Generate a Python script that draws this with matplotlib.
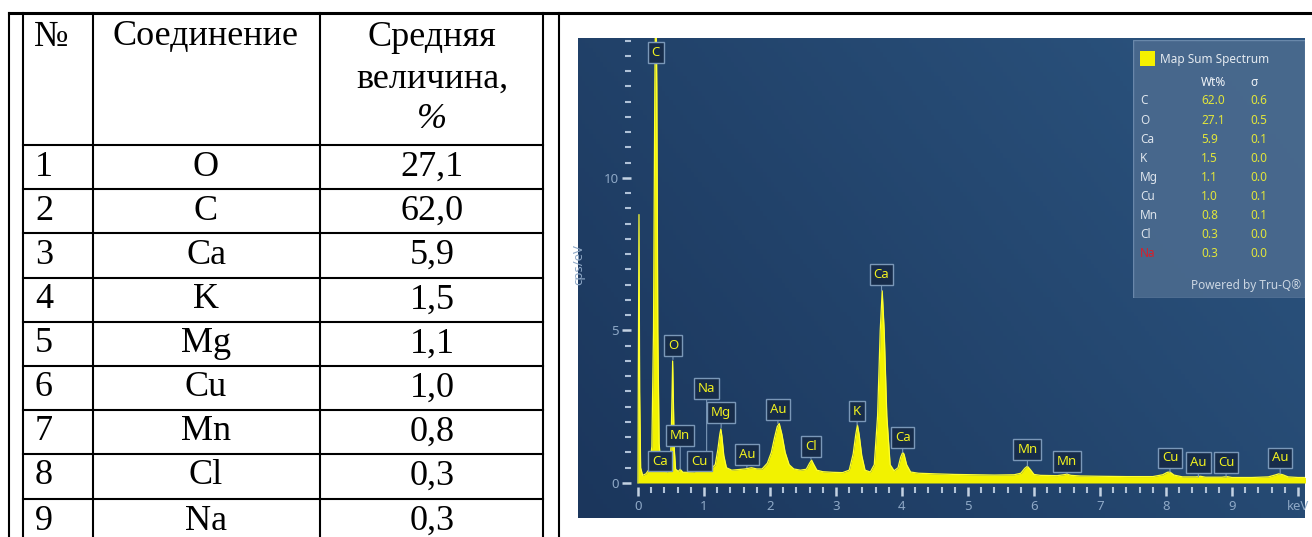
import numpy as np
import matplotlib.pyplot as plt
from matplotlib.patches import Rectangle

# --- таблица ---
row_num = ['1', '2', '3', '4', '5', '6', '7', '8', '9']
compounds = ['O', 'C', 'Ca', 'K', 'Mg', 'Cu', 'Mn', 'Cl', 'Na']
mean_vals = ['27,1', '62,0', '5,9', '1,5', '1,1', '1,0', '0,8', '0,3', '0,3']

# --- спектр (keV, cps/eV) ---
energy = [0.00, 0.005, 0.015, 0.025, 0.04, 0.07, 0.12, 0.17, 0.21, 0.235, 0.255, 0.27, 0.285, 0.30,
          0.32, 0.345, 0.37, 0.40, 0.44, 0.48, 0.50, 0.515, 0.525, 0.535, 0.55, 0.57, 0.61, 0.64,
          0.68, 0.75, 0.84, 0.93, 0.98, 1.04, 1.10, 1.17, 1.21, 1.24, 1.255, 1.27, 1.30, 1.34,
          1.42, 1.52, 1.62, 1.72, 1.80, 1.88, 1.96, 2.02, 2.07, 2.11, 2.14, 2.18, 2.23, 2.29,
          2.36, 2.46, 2.55, 2.60, 2.63, 2.66, 2.71, 2.80, 2.95, 3.10, 3.20, 3.26, 3.30, 3.325,
          3.35, 3.39, 3.44, 3.52, 3.58, 3.63, 3.67, 3.70, 3.73, 3.77, 3.82, 3.88, 3.94, 3.98,
          4.01, 4.03, 4.07, 4.13, 4.25, 4.50, 4.80, 5.10, 5.40, 5.70, 5.80, 5.86, 5.90, 5.94,
          6.00, 6.10, 6.35, 6.45, 6.50, 6.56, 6.70, 7.00, 7.40, 7.80, 7.95, 8.02, 8.06, 8.12,
          8.25, 8.45, 8.52, 8.60, 8.85, 8.92, 9.00, 9.30, 9.55, 9.65, 9.71, 9.77, 9.85, 10.0, 10.2]
counts = [0.0, 3.5, 8.8, 3.0, 0.5, 0.25, 0.3, 0.45, 1.2, 5.0, 13.0, 16.5, 13.0, 5.0,
          1.3, 0.6, 0.55, 0.38, 0.35, 0.45, 1.2, 2.8, 4.0, 2.8, 1.1, 0.45, 0.38, 0.45,
          0.35, 0.35, 0.36, 0.42, 0.4, 0.45, 0.45, 0.6, 1.1, 1.6, 1.77, 1.55, 0.9, 0.5,
          0.42, 0.44, 0.46, 0.5, 0.46, 0.46, 0.65, 1.0, 1.5, 1.85, 1.95, 1.6, 1.0, 0.6,
          0.46, 0.42, 0.45, 0.65, 0.75, 0.62, 0.42, 0.37, 0.35, 0.34, 0.42, 0.95, 1.6, 1.9,
          1.6, 0.9, 0.42, 0.36, 0.6, 2.2, 5.0, 6.3, 5.0, 2.2, 0.6, 0.4, 0.5, 0.85,
          1.0, 0.95, 0.6, 0.36, 0.32, 0.3, 0.28, 0.27, 0.26, 0.27, 0.32, 0.48, 0.55, 0.45,
          0.28, 0.25, 0.24, 0.27, 0.29, 0.25, 0.23, 0.22, 0.21, 0.21, 0.27, 0.35, 0.36, 0.26,
          0.2, 0.2, 0.22, 0.19, 0.19, 0.21, 0.18, 0.18, 0.2, 0.26, 0.3, 0.27, 0.2, 0.18, 0.18]

# метки пиков: энергия, положение рамки, куда указывает
peak_names = ['C', 'O', 'Na', 'Mg', 'Mn', 'Ca', 'Cu', 'Au', 'Au', 'Cl', 'K', 'Ca', 'Ca',
              'Mn', 'Mn', 'Cu', 'Au', 'Cu', 'Au']
peak_e = [0.27, 0.53, 1.04, 1.26, 0.64, 0.33, 0.93, 1.65, 2.12, 2.62, 3.32, 3.69, 4.01,
          5.90, 6.50, 8.06, 8.49, 8.91, 9.73]
peak_box = [14.1, 4.5, 3.1, 2.3, 1.55, 0.72, 0.72, 0.92, 2.4, 1.2, 2.36, 6.85, 1.5,
            1.1, 0.7, 0.82, 0.66, 0.66, 0.82]
peak_tip = [14.1, 4.05, 0.45, 1.8, 0.45, 0.5, 0.4, 0.5, 1.95, 0.78, 1.9, 6.3, 1.0,
            0.55, 0.3, 0.36, 0.2, 0.2, 0.3]

# легенда
leg_elems = ['C', 'O', 'Ca', 'K', 'Mg', 'Cu', 'Mn', 'Cl', 'Na']
leg_wt = ['62.0', '27.1', '5.9', '1.5', '1.1', '1.0', '0.8', '0.3', '0.3']
leg_sigma = ['0.6', '0.5', '0.1', '0.0', '0.0', '0.1', '0.1', '0.0', '0.0']

W, H = 1312, 537


def rect(x0, y0, x1, y1):
    return [x0 / W, 1 - y1 / H, (x1 - x0) / W, (y1 - y0) / H]


fig = plt.figure(figsize=(W / 100, H / 100), dpi=100)
fig.patch.set_facecolor('white')

# ---- таблица слева ----
tab = fig.add_axes([0, 0, 1, 1])
tab.set_xlim(0, W)
tab.set_ylim(H, 0)
tab.axis('off')
lw = 1.5
tab.plot([9, W], [13, 13], color='black', lw=2.2)
for x in [9, 23, 93, 320, 543, 559]:
    tab.plot([x, x], [13, H], color='black', lw=lw)
row_lines = [145, 189, 233, 278, 322, 366, 410, 454, 499]
for y in row_lines:
    tab.plot([23, 543], [y, y], color='black', lw=lw)

serif = 'Liberation Serif'
fs = 26
tab.text(34, 37, '№', fontsize=fs, family=serif, ha='left', va='center')
tab.text(206, 37, 'Соединение', fontsize=fs, family=serif, ha='center', va='center')
tab.text(432, 37, 'Средняя', fontsize=fs, family=serif, ha='center', va='center')
tab.text(432, 79, 'величина,', fontsize=fs, family=serif, ha='center', va='center')
tab.text(432, 120, '%', fontsize=fs, family=serif, style='italic', ha='center', va='center')
for i in range(len(row_num)):
    yc = row_lines[i] + 22
    tab.text(35, yc, row_num[i], fontsize=fs, family=serif, ha='left', va='center')
    tab.text(206, yc, compounds[i], fontsize=fs, family=serif, ha='center', va='center')
    tab.text(432, yc, mean_vals[i], fontsize=fs, family=serif, ha='center', va='center')

# ---- фон спектра ----
box = rect(578, 38, 1305, 518)
bg = fig.add_axes(box)
gx, gy = np.meshgrid(np.linspace(0, 1, 200), np.linspace(1, 0, 100))
t = np.clip(0.65 * gx + 0.35 * gy, 0, 1)[..., None]
dark = np.array([0x1b, 0x36, 0x5c]) / 255
light = np.array([0x2c, 0x55, 0x80]) / 255
bg.imshow(dark + (light - dark) * t, aspect='auto', extent=[0, 1, 0, 1])
bg.axis('off')

# ---- спектр ----
sans = 'Noto Sans'
ax = fig.add_axes(box)
ax.patch.set_alpha(0)
ax.set_xlim(-0.909, 10.106)
ax.set_ylim(-1.148, 14.59)
ax.fill_between(energy, counts, 0, color='#f2f200', lw=0)
ax.plot(energy, counts, color='#ffff30', lw=0.9)

for s in ['top', 'right']:
    ax.spines[s].set_visible(False)
ax.spines['bottom'].set_position(('data', -0.13))
ax.spines['left'].set_position(('data', -0.106))
ax.spines['bottom'].set_color('none')
ax.spines['left'].set_color('none')

ax.set_xticks(range(11))
ax.set_xticklabels([str(i) for i in range(10)] + ['keV'])
ax.set_xticks(np.arange(0, 10.01, 0.2), minor=True)
ax.set_yticks([0, 5, 10])
ax.set_yticks(np.arange(0, 14.6, 0.5), minor=True)
ax.tick_params(which='major', direction='out', length=6.5, width=1.8, color='#c4d2e2',
               labelsize=9.5, labelcolor='#8ea8c6')
ax.tick_params(axis='x', which='major', pad=3)
ax.tick_params(axis='y', which='major', pad=2)
ax.tick_params(which='minor', direction='out', length=4, width=1.5, color='#b0c2d8')
for lab in ax.get_xticklabels() + ax.get_yticklabels():
    lab.set_family(sans)
ax.set_ylabel('cps/eV', fontsize=9.5, color='#8ea8c6', family=sans)
ax.yaxis.set_label_coords(0.01, 0.527)

for name, e, yb, yt in zip(peak_names, peak_e, peak_box, peak_tip):
    ax.annotate(name, xy=(e, yt), xytext=(e, yb), ha='center', va='center',
                fontsize=9.5, color='#f0f020', family=sans,
                bbox=dict(boxstyle='square,pad=0.3', fc='#172c4a', ec='#7b98b8', lw=1.0),
                arrowprops=dict(arrowstyle='-', color='#7b98b8', lw=0.8, shrinkA=0, shrinkB=0))

# ---- легенда ----
lg = fig.add_axes(rect(1133, 40, 1305, 298))
lg.set_xlim(1133, 1305)
lg.set_ylim(298, 40)
lg.axis('off')
lg.add_patch(Rectangle((1133, 40), 172, 258, fc='#4a6a8e', ec='#6e8cae', lw=1.0, alpha=0.92))
lg.add_patch(Rectangle((1140, 51), 15, 15, fc='#f5f000', ec='none'))
lfs = 8.5
lg.text(1160, 59, 'Map Sum Spectrum', fontsize=lfs, color='#e4eaf0', family=sans, va='center')
lg.text(1201, 82, 'Wt%', fontsize=lfs, color='#f0f4f8', family=sans, weight='bold', va='center')
lg.text(1250, 82, 'σ', fontsize=lfs, color='#f0f4f8', family=sans, weight='bold', va='center')
for i in range(len(leg_elems)):
    y = 101 + 19.1 * i
    c = '#d8202a' if leg_elems[i] == 'Na' else '#dde4ec'
    lg.text(1140, y, leg_elems[i], fontsize=lfs, color=c, family=sans, va='center')
    lg.text(1201, y, leg_wt[i], fontsize=lfs, color='#e2e63a', family=sans, va='center')
    lg.text(1250, y, leg_sigma[i], fontsize=lfs, color='#e2e63a', family=sans, va='center')
lg.text(1301, 285, 'Powered by Tru-Q®', fontsize=lfs, color='#cbd6e2', family=sans,
        ha='right', va='center')

fig.savefig('out.png', dpi=100)
